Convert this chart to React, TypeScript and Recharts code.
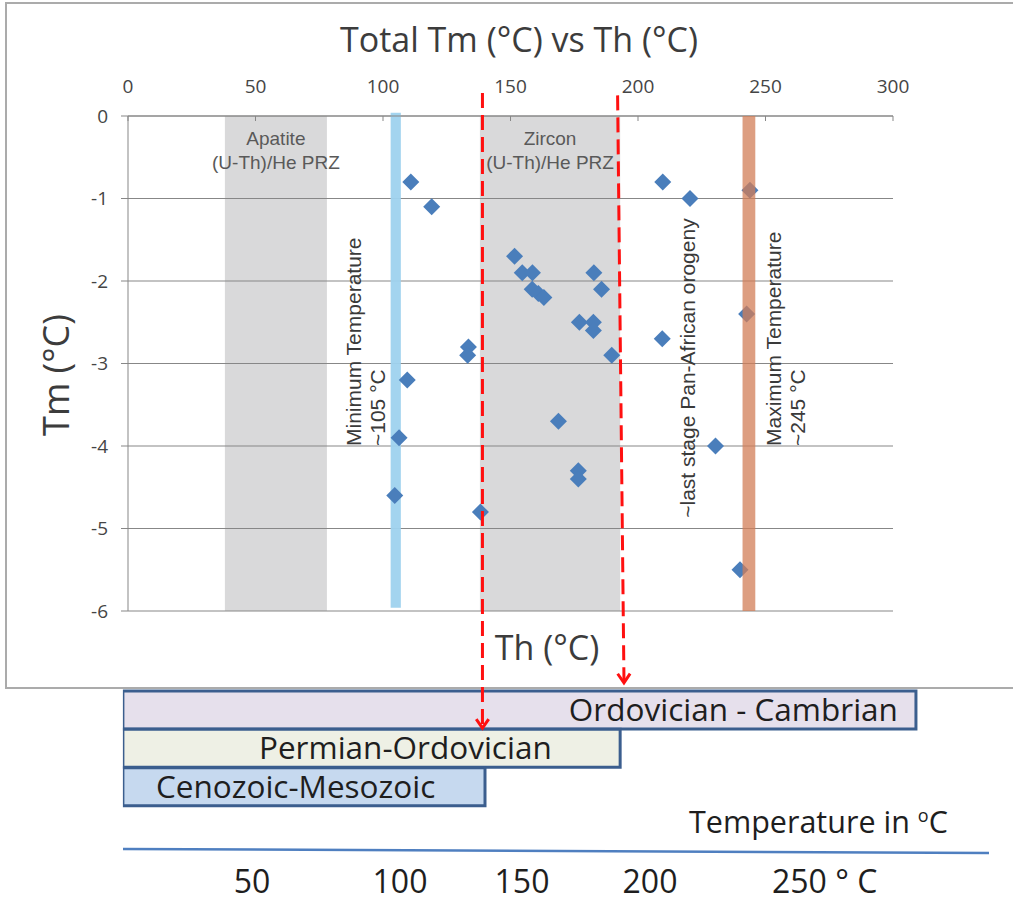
import React from "react";
import {
    Bar,
    BarChart,
    CartesianGrid,
    Cell,
    LabelList,
    ReferenceArea,
    ReferenceDot,
    ReferenceLine,
    Scatter,
    ScatterChart,
    XAxis,
    YAxis,
} from "recharts";

// Th (°C) and Tm (°C) of each fluid inclusion
const TH = [
    110.9, 119.1, 151.6, 154.6, 158.6, 158.5, 160.9, 163.1, 182.7, 185.7,
    177.0, 182.5, 182.5, 189.7, 133.5, 133.2, 109.5, 106.3, 104.6, 138.2,
    168.8, 176.6, 176.6, 209.7, 220.4, 243.9, 242.6, 209.5, 230.4, 240.0,
];
const TM = [
    -0.8, -1.1, -1.7, -1.9, -1.9, -2.1, -2.15, -2.2, -1.9, -2.1,
    -2.5, -2.5, -2.6, -2.9, -2.8, -2.9, -3.2, -3.9, -4.6, -4.8,
    -3.7, -4.3, -4.4, -0.8, -1.0, -0.9, -2.4, -2.7, -4.0, -5.5,
];

const X_TICKS = [0, 50, 100, 150, 200, 250, 300];
const Y_TICKS = [0, -1, -2, -3, -4, -5, -6];

// temperature windows (°C)
const APATITE_PRZ = [38, 78];
const ZIRCON_PRZ = [138, 193];
const MIN_TEMP = [103, 107];
const MAX_TEMP = [241, 246];

// red dashed arrows: [Th, Tm] at the top and at the tip
const LOWER_ARROW = [
    [139, 0.28],
    [139, -7.42],
];
const UPPER_ARROW = [
    [192, 0.25],
    [194.5, -6.87],
];

// age bars under the chart
const PERIODS = ["Ordovician - Cambrian", "Permian-Ordovician", "Cenozoic-Mesozoic"];
const PERIOD_FROM = [-2, -2, -2];
const PERIOD_TO = [309, 193, 140];
const PERIOD_FILLS = ["#E6E0EC", "#EEF0E5", "#C6D9EF"];

const SCALE_LABELS = ["50", "100", "150", "200", "250 ° C"];

const W = 1013;
const H = 901;
const PLOT_LEFT = 128;
const PLOT_RIGHT = 893;
const PX = (PLOT_RIGHT - PLOT_LEFT) / 300;
const BAR_DOMAIN = [-2, 310];

const GRID = "#878787";
const SANS = "'Open Sans', sans-serif";
const ARIAL = "'Liberation Sans', Arial, sans-serif";

const points = TH.map((th, i) => ({ th, tm: TM[i] }));
const periodRows = PERIODS.map((name, i) => ({
    name,
    range: [PERIOD_FROM[i], PERIOD_TO[i]],
}));

function Diamond(p: any) {
    const { cx, cy } = p;
    const r = 8.5;
    return (
        <path
            d={`M${cx},${cy - r}L${cx + r},${cy}L${cx},${cy + r}L${cx - r},${cy}Z`}
            fill="#4A7EBB"
        />
    );
}

function DashedArrow(p: any) {
    const { x1, y1, x2, y2 } = p;
    const ang = Math.atan2(y2 - y1, x2 - x1);
    const len = 11;
    const a1 = ang + Math.PI - 0.6;
    const a2 = ang + Math.PI + 0.6;
    return (
        <g>
            <line
                x1={x1}
                y1={y1}
                x2={x2}
                y2={y2 - 2}
                stroke="#FF1010"
                strokeWidth={3}
                strokeDasharray="15 7"
            />
            <polyline
                points={`${x2 + len * Math.cos(a1)},${y2 + len * Math.sin(a1)} ${x2},${y2} ${
                    x2 + len * Math.cos(a2)
                },${y2 + len * Math.sin(a2)}`}
                fill="none"
                stroke="#FF1010"
                strokeWidth={3}
            />
        </g>
    );
}

const przLabel = (title: string) => (p: any) => {
    const vb = p.viewBox;
    const cx = vb.x + vb.width / 2;
    return (
        <g>
            <text x={cx} y={vb.y + 29} textAnchor="middle" fontFamily={ARIAL} fontSize={19} fill="#595959">
                {title}
            </text>
            <text x={cx} y={vb.y + 53} textAnchor="middle" fontFamily={ARIAL} fontSize={19} fill="#595959">
                (U-Th)/He PRZ
            </text>
        </g>
    );
};

const verticalLabel = (lines: string[]) => (p: any) => {
    const vb = p.viewBox;
    const cx = vb.x + (vb.width || 0) / 2;
    const cy = vb.y + (vb.height || 0) / 2;
    return (
        <g>
            {lines.map((t, i) => (
                <text
                    key={i}
                    x={cx + i * 24}
                    y={cy}
                    transform={`rotate(-90 ${cx + i * 24} ${cy})`}
                    textAnchor="start"
                    dominantBaseline="central"
                    fontFamily={ARIAL}
                    fontSize={21}
                    fill="#3A3A3A"
                >
                    {t}
                </text>
            ))}
        </g>
    );
};

function periodLabel(p: any) {
    const { x, y, width, height, value, index } = p;
    const anchor = index === 0 ? "end" : index === 1 ? "middle" : "start";
    const tx = index === 0 ? x + width - 18 : index === 1 ? x + width * 0.568 : x + 33;
    return (
        <text
            x={tx}
            y={y + height / 2 + 11}
            textAnchor={anchor}
            fontFamily={SANS}
            fontSize={31.5}
            fill="#1E1E1E"
        >
            {value}
        </text>
    );
}

const tickStyle = { fill: "#454545", fontSize: 19, fontFamily: SANS };

export default function App() {
    return (
        <div
            style={{
                position: "absolute",
                left: 0,
                top: 0,
                width: W,
                height: H,
                overflow: "hidden",
                background: "#fff",
            }}
        >
            <div
                style={{
                    position: "absolute",
                    left: 5,
                    top: 2,
                    width: 1040,
                    height: 687,
                    border: "2px solid #ABABAB",
                    boxSizing: "border-box",
                }}
            />

            <div style={{ position: "absolute", left: 0, top: 0 }}>
                <BarChart
                    layout="vertical"
                    width={W}
                    height={H}
                    data={periodRows}
                    margin={{
                        top: 691,
                        bottom: 95,
                        left: PLOT_LEFT + BAR_DOMAIN[0] * PX,
                        right: W - (PLOT_LEFT + BAR_DOMAIN[1] * PX),
                    }}
                    barCategoryGap={0}
                >
                    <XAxis type="number" domain={BAR_DOMAIN} hide allowDataOverflow />
                    <YAxis type="category" dataKey="name" hide />
                    <Bar dataKey="range" stroke="#3B5E8E" strokeWidth={3} isAnimationActive={false}>
                        {periodRows.map((r, i) => (
                            <Cell key={r.name} fill={PERIOD_FILLS[i]} />
                        ))}
                        <LabelList dataKey="name" content={periodLabel} />
                    </Bar>
                </BarChart>
            </div>

            <div style={{ position: "absolute", left: 0, top: 0 }}>
                <ScatterChart
                    width={W}
                    height={H}
                    margin={{ top: 86, right: W - PLOT_RIGHT, bottom: 290, left: PLOT_LEFT - 60 }}
                >
                    <ReferenceArea
                        x1={APATITE_PRZ[0]}
                        x2={APATITE_PRZ[1]}
                        y1={-6}
                        y2={0}
                        fill="#B3B3B6"
                        fillOpacity={0.5}
                        stroke="none"
                        zIndex={-200}
                        label={przLabel("Apatite")}
                    />
                    <ReferenceArea
                        x1={ZIRCON_PRZ[0]}
                        x2={ZIRCON_PRZ[1]}
                        y1={-6}
                        y2={0}
                        fill="#B3B3B6"
                        fillOpacity={0.5}
                        stroke="none"
                        zIndex={-200}
                        label={przLabel("Zircon")}
                    />
                    <CartesianGrid vertical={false} stroke={GRID} />
                    <ReferenceArea
                        x1={MIN_TEMP[0]}
                        x2={MIN_TEMP[1]}
                        y1={-5.96}
                        y2={0.04}
                        fill="#9ED2EE"
                        fillOpacity={0.95}
                        stroke="none"
                        ifOverflow="visible"
                    />
                    <XAxis
                        type="number"
                        dataKey="th"
                        orientation="top"
                        domain={[0, 300]}
                        ticks={X_TICKS}
                        interval={0}
                        height={30}
                        tickSize={-5}
                        tickMargin={28}
                        stroke={GRID}
                        tick={tickStyle}
                    />
                    <YAxis
                        type="number"
                        dataKey="tm"
                        domain={[-6, 0]}
                        ticks={Y_TICKS}
                        interval={0}
                        width={60}
                        tickSize={7}
                        tickMargin={13}
                        stroke={GRID}
                        tick={tickStyle}
                    />
                    <Scatter data={points} shape={Diamond} isAnimationActive={false} />
                    <ReferenceArea
                        x1={MAX_TEMP[0]}
                        x2={MAX_TEMP[1]}
                        y1={-6}
                        y2={0}
                        fill="#D27E57"
                        fillOpacity={0.75}
                        stroke="none"
                        zIndex={700}
                    />
                    <ReferenceLine
                        segment={[
                            { x: LOWER_ARROW[0][0], y: LOWER_ARROW[0][1] },
                            { x: LOWER_ARROW[1][0], y: LOWER_ARROW[1][1] },
                        ]}
                        ifOverflow="visible"
                        shape={DashedArrow}
                        zIndex={800}
                    />
                    <ReferenceLine
                        segment={[
                            { x: UPPER_ARROW[0][0], y: UPPER_ARROW[0][1] },
                            { x: UPPER_ARROW[1][0], y: UPPER_ARROW[1][1] },
                        ]}
                        ifOverflow="visible"
                        shape={DashedArrow}
                        zIndex={800}
                    />
                    <ReferenceDot
                        x={88.6}
                        y={-4}
                        r={0}
                        fill="none"
                        stroke="none"
                        label={verticalLabel(["Minimum Temperature", "~105 °C"])}
                    />
                    <ReferenceDot
                        x={219.6}
                        y={-4.87}
                        r={0}
                        fill="none"
                        stroke="none"
                        label={verticalLabel(["~last stage Pan-African orogeny"])}
                    />
                    <ReferenceDot
                        x={253.3}
                        y={-4}
                        r={0}
                        fill="none"
                        stroke="none"
                        label={verticalLabel(["Maximum Temperature", "~245 °C"])}
                    />
                </ScatterChart>
            </div>

            <svg
                width={W}
                height={H}
                style={{ position: "absolute", left: 0, top: 0, pointerEvents: "none" }}
            >
                <text x={519} y={52} textAnchor="middle" fontFamily={SANS} fontSize={34} fill="#3C3C3C">
                    Total Tm (°C) vs Th (°C)
                </text>
                <text
                    x={55}
                    y={375}
                    transform="rotate(-90 55 375)"
                    textAnchor="middle"
                    dominantBaseline="central"
                    fontFamily={SANS}
                    fontSize={36}
                    fill="#3C3C3C"
                >
                    Tm (°C)
                </text>
                <text x={547} y={660} textAnchor="middle" fontFamily={SANS} fontSize={34} fill="#3C3C3C">
                    Th (°C)
                </text>
                <text x={689} y={833} fontFamily={SANS} fontSize={30.5} fill="#1E1E1E">
                    Temperature in{" "}
                    <tspan dy={-11} fontSize={18}>
                        o
                    </tspan>
                    <tspan dy={11}>C</tspan>
                </text>
                <line x1={123} y1={849} x2={989} y2={853} stroke="#4F7FC0" strokeWidth={2.5} />
                {SCALE_LABELS.map((t, i) => (
                    <text
                        key={t}
                        x={[252, 400, 522, 650, 772][i]}
                        y={893}
                        textAnchor={i === 4 ? "start" : "middle"}
                        fontFamily={SANS}
                        fontSize={32}
                        fill="#1E1E1E"
                    >
                        {t}
                    </text>
                ))}
            </svg>
        </div>
    );
}
